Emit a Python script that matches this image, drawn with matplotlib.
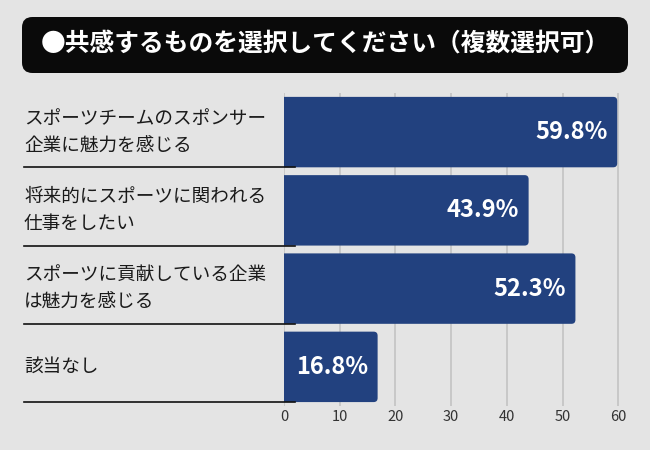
import matplotlib.pyplot as plt
from matplotlib.patches import FancyBboxPatch
from matplotlib.transforms import blended_transform_factory

plt.rcParams['font.family'] = ['Noto Sans CJK JP', 'DejaVu Sans']

# データ
title = '●共感するものを選択してください（複数選択可）'
labels = ['スポーツチームのスポンサー\n企業に魅力を感じる',
          '将来的にスポーツに関われる\n仕事をしたい',
          'スポーツに貢献している企業\nは魅力を感じる',
          '該当なし']
values = [59.8, 43.9, 52.3, 16.8]
ticks = [0, 10, 20, 30, 40, 50, 60]

bg = '#e4e4e4'
bar_color = '#22417f'

fig = plt.figure(figsize=(6.5, 4.5), dpi=100, facecolor=bg)

# タイトルの黒い箱
box = FancyBboxPatch((22 / 650, 1 - 73 / 450), 606 / 650, 56 / 450,
                     boxstyle='round,pad=0,rounding_size=0.016',
                     mutation_aspect=650 / 450,
                     transform=fig.transFigure, facecolor='#0a0a0a',
                     edgecolor='none')
fig.patches.append(box)
fig.text(0.5, 1 - 45 / 450, title, color='white', fontsize=17.8,
         fontweight='bold', ha='center', va='center')

ax = fig.add_axes([284 / 650, 0.0978, 336 / 650, 0.6956])
ax.set_facecolor(bg)
ax.set_xlim(0, 60.3)
ax.set_ylim(3.5, -0.5)

ypos = list(range(len(values)))
bars = ax.barh(ypos, values, height=0.9, color=bar_color, zorder=3,
               linewidth=0)

# 右端だけ角を丸くする（左側は軸の外に出してクリップ）
px_x = (ax.get_xlim()[1] - ax.get_xlim()[0]) / 336
px_y = 4.0 / 313
for b in bars:
    x0 = b.get_x() - 3
    p = FancyBboxPatch((x0, b.get_y()), b.get_width() + 3, b.get_height(),
                       boxstyle='round,pad=0,rounding_size=%f' % (4 * px_x),
                       mutation_aspect=px_y / px_x,
                       facecolor=bar_color, edgecolor='none', zorder=3)
    ax.add_patch(p)
    b.set_visible(False)

for y, v in zip(ypos, values):
    ax.annotate(f'{v}%', (v, y), xytext=(-7, 0), textcoords='offset points',
                ha='right', va='center', color='white', fontsize=17,
                fontweight='bold', zorder=4)

ax.set_xticks(ticks)
ax.set_yticks([])
ax.tick_params(axis='x', length=0, labelsize=10.5, labelcolor='#333333', pad=3)
ax.grid(axis='x', color='#c6c6c6', linewidth=1.3, zorder=0)
for s in ax.spines.values():
    s.set_visible(False)

# 左側のラベルと区切り線
tr = blended_transform_factory(fig.transFigure, ax.transData)
for y, lab in zip(ypos, labels):
    fig.text(24 / 650, y, lab, transform=tr, ha='left', va='center',
             fontsize=13.4, color='#1a1a1a', linespacing=1.65)
    ax.plot([24 / 650, 295 / 650], [y + 0.45, y + 0.45], transform=tr,
            color='#111111', linewidth=1.2, clip_on=False, zorder=5)

fig.savefig('out.png', dpi=100, facecolor=bg)
